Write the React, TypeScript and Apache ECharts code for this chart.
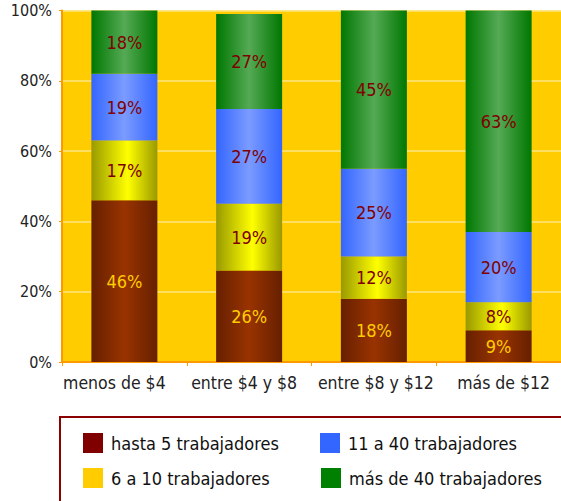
import React, { useEffect, useRef } from "react";
import * as echarts from "echarts";

const categories = ["menos de $4", "entre $4 y $8", "entre $8 y $12", "más de $12"];
const yTicks = [0, 20, 40, 60, 80, 100];
const seriesNames = ["hasta 5 trabajadores", "6 a 10 trabajadores", "11 a 40 trabajadores", "más de 40 trabajadores"];
const hasta5 = [46, 26, 18, 9];
const seis10 = [17, 19, 12, 8];
const once40 = [19, 27, 25, 20];
const mas40 = [18, 27, 45, 63];

const FONT = "'DejaVu Sans Condensed', 'DejaVu Sans', sans-serif";

function grad(edge: string, mid: string, midPos = 0.5) {
  return new echarts.graphic.LinearGradient(0, 0, 1, 0, [
    { offset: 0, color: edge },
    { offset: midPos, color: mid },
    { offset: 1, color: edge },
  ]);
}

export default function App() {
  const ref = useRef<HTMLDivElement>(null);
  useEffect(() => {
    document.body.style.margin = "0";
    if (!ref.current) return;
    const chart = echarts.init(ref.current, undefined, { renderer: "svg" });
    const mk = (name: string, data: number[], fill: any, labelColor: string) => ({
      name,
      type: "bar",
      stack: "total",
      barWidth: 66,
      data,
      itemStyle: { color: fill },
      label: {
        show: true,
        position: "inside",
        formatter: "{c}%",
        color: labelColor,
        fontFamily: FONT,
        fontSize: 18,
      },
    });
    const legendColors = ["#800000", "#FFCC00", "#3366FF", "#008000"];
    const legendPos = [
      { left: 83, top: 433 },
      { left: 83, top: 468 },
      { left: 320, top: 433 },
      { left: 321, top: 468 },
    ];
    const catText = { color: "#222", fontFamily: FONT, fontSize: 17.5 };
    chart.setOption({
      animation: false,
      grid: {
        left: 62,
        top: 10.5,
        width: 502,
        height: 351.5,
        show: true,
        backgroundColor: "#FFCC00",
        borderWidth: 0,
      },
      graphic: [
        {
          type: "rect",
          z: 0,
          shape: { x: 60, y: 417, width: 503, height: 100 },
          style: { fill: "#ffffff", stroke: "#8B0000", lineWidth: 2 },
        },
      ],
      legend: seriesNames.map((n, i) => ({
        data: [{ name: n, itemStyle: { color: legendColors[i] } }],
        left: legendPos[i].left,
        top: legendPos[i].top,
        padding: 0,
        itemWidth: 20,
        itemHeight: 20,
        itemGap: 0,
        icon: "rect",
        selectedMode: false,
        textStyle: { fontFamily: FONT, fontSize: 18, color: "#111", padding: [0, 0, 0, 3] },
      })),
      xAxis: {
        type: "category",
        data: categories,
        axisLine: { lineStyle: { color: "#FF9900", width: 2 } },
        axisTick: { show: true, length: 4, lineStyle: { color: "#FF9900" } },
        axisLabel: {
          interval: 0,
          margin: 12,
          ...catText,
          formatter: (v: string, i: number) => `{c${i}|${v}}`,
          rich: {
            c0: { ...catText, padding: [0, 20, 0, 0] },
            c1: { ...catText, padding: [0, 10, 0, 0] },
            c2: { ...catText, padding: [0, 0, 0, 4] },
            c3: { ...catText, padding: [0, 0, 0, 10] },
          },
        },
      },
      yAxis: {
        type: "value",
        min: yTicks[0],
        max: yTicks[yTicks.length - 1],
        interval: 20,
        axisLine: { show: true, lineStyle: { color: "#FF9900", width: 2 } },
        axisTick: { show: true, length: 3, lineStyle: { color: "#FF9900" } },
        axisLabel: { formatter: "{value}%", color: "#222", fontFamily: FONT, fontSize: 16, margin: 10 },
        splitLine: { lineStyle: { color: "#FFE680", width: 1.5 } },
      },
      series: [
        mk(seriesNames[0], hasta5, grad("#662000", "#993300"), "#FFCC00"),
        mk(seriesNames[1], seis10, grad("#999900", "#FFFF00", 0.55), "#800000"),
        mk(seriesNames[2], once40, grad("#3366FF", "#7B9BFF"), "#800000"),
        mk(seriesNames[3], mas40, grad("#007700", "#55AA55"), "#800000"),
      ],
    });
    return () => chart.dispose();
  }, []);
  return <div ref={ref} style={{ width: 561, height: 501 }} />;
}
